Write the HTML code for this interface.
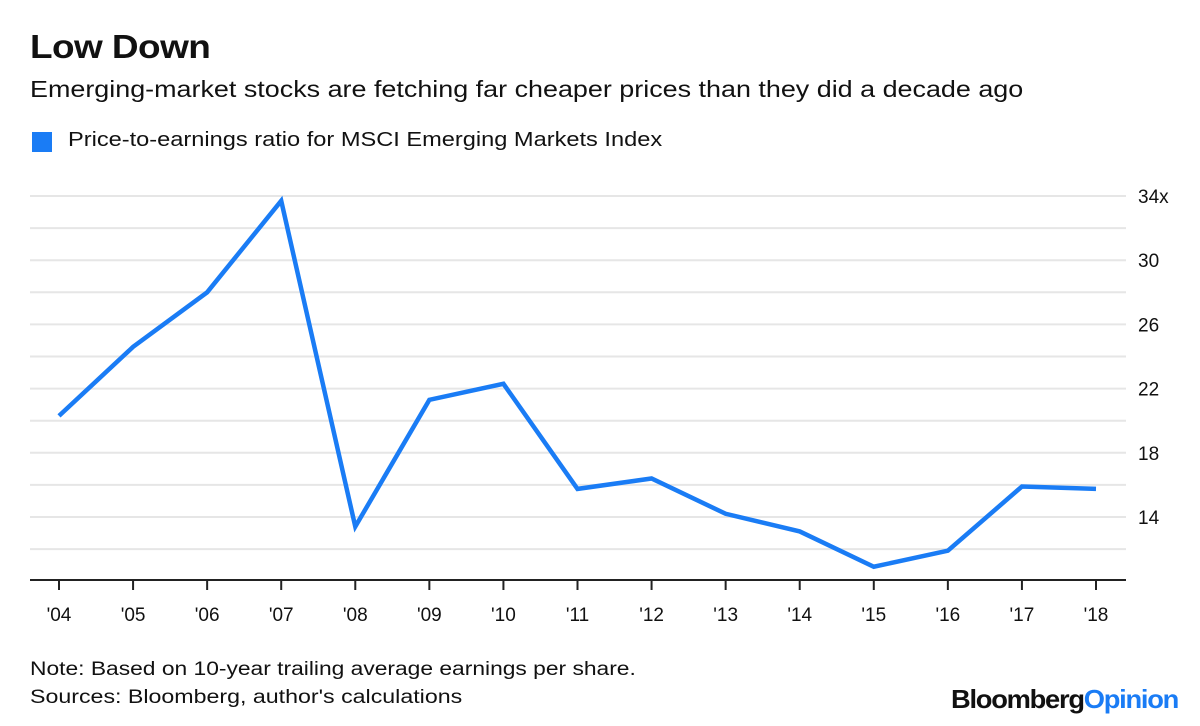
<!DOCTYPE html>
<html><head><meta charset="utf-8">
<style>
body{margin:0;background:#fff;font-family:"Liberation Sans",sans-serif;}
#wrap{position:relative;width:1200px;height:726px;overflow:hidden;}
.t{position:absolute;white-space:nowrap;color:#111;transform-origin:0 0;}
</style></head><body>
<div id="wrap">
<div class="t" style="left:30px;top:28px;font-size:33px;font-weight:bold;letter-spacing:-0.5px;transform:scaleX(1.12);">Low Down</div>
<div class="t" style="left:30px;top:76px;font-size:23px;transform:scaleX(1.17);">Emerging-market stocks are fetching far cheaper prices than they did a decade ago</div>
<div style="position:absolute;left:32px;top:132px;width:20px;height:20px;background:#1a7cf5;"></div>
<div class="t" style="left:68px;top:129px;font-size:20px;transform:scaleX(1.18);">Price-to-earnings ratio for MSCI Emerging Markets Index</div>
<svg id="chart" width="1200" height="726" style="position:absolute;left:0;top:0;"></svg>
<div class="t" style="left:30px;top:659px;font-size:19px;transform:scaleX(1.2);">Note: Based on 10-year trailing average earnings per share.</div>
<div class="t" style="left:30px;top:687px;font-size:19px;transform:scaleX(1.22);">Sources: Bloomberg, author's calculations</div>
<div class="t" style="left:951px;top:684px;font-size:26px;font-weight:bold;letter-spacing:-1.2px;transform:scaleX(1.05);">Bloomberg<span style="color:#1a7cf5">Opinion</span></div>
</div>
<script>
const years = ["'04","'05","'06","'07","'08","'09","'10","'11","'12","'13","'14","'15","'16","'17","'18"];
const peValues = [20.3,24.6,28.0,33.7,13.4,21.3,22.3,15.75,16.4,14.2,13.1,10.9,11.9,15.9,15.75];
const yTickValues = [14,18,22,26,30,34];
const yTickLabels = ["14","18","22","26","30","34x"];
const gridValues = [12,14,16,18,20,22,24,26,28,30,32,34];

const NS="http://www.w3.org/2000/svg";
const svg=document.getElementById('chart');
const x=i=>59+i*(1096-59)/(years.length-1);
const y=v=>517-(v-14)*16.05;
function mk(tag,attrs){const e=document.createElementNS(NS,tag);for(const k in attrs)e.setAttribute(k,attrs[k]);svg.appendChild(e);return e;}

gridValues.forEach(v=>{
  const l=mk('line',{x1:30,x2:1126,y1:y(v),y2:y(v),stroke:'#e6e6e6','stroke-width':2});
  
  
});
yTickValues.forEach((v,i)=>{
  const t=mk('text',{x:1138,y:y(v)+7,'font-size':19,fill:'#111','font-family':'Liberation Sans, sans-serif'});
  t.textContent=yTickLabels[i];
  
  
});
const ax=mk('line',{x1:30,x2:1126,y1:580,y2:580,stroke:'#222','stroke-width':2});


years.forEach((yr,i)=>{
  const tk=mk('line',{x1:x(i),x2:x(i),y1:580,y2:590,stroke:'#222','stroke-width':2});
  
  
  const t=mk('text',{x:x(i),y:621,'font-size':19,fill:'#111','text-anchor':'middle','font-family':'Liberation Sans, sans-serif'});
  t.textContent=yr;
  
  
});
const pts=peValues.map((v,i)=>x(i)+','+y(v)).join(' ');
const line=mk('polyline',{points:pts,fill:'none',stroke:'#1a7cf5','stroke-width':4.5,'stroke-linejoin':'miter'});


</script>
</body></html>
